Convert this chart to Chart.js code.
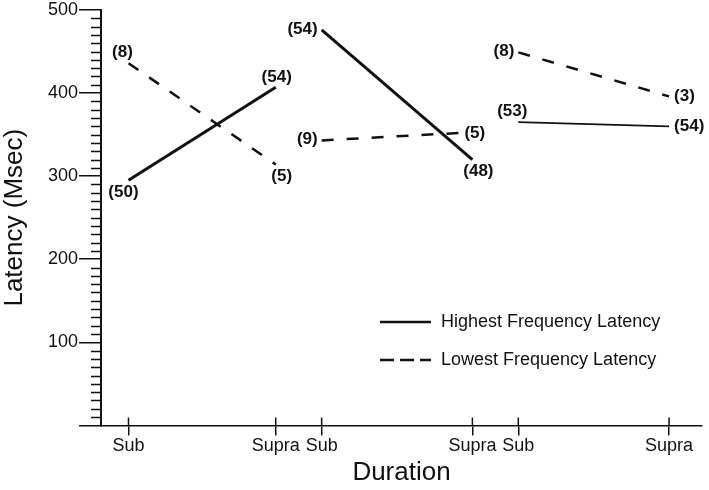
<!DOCTYPE html>
<html lang="en">
<head>
    <meta charset="UTF-8">
    <title>Latency by Duration</title>
    <script src="https://cdn.jsdelivr.net/npm/chart.js"></script>
    <style>
        body { margin: 0; background: #ffffff; }
        canvas { display: block; }
    </style>
</head>
<body>
    <canvas id="latencyChart" width="709" height="490"></canvas>

    <script>
        // tick positions on the duration axis (three Sub/Supra pairs) and their labels
        const tickPos = [0.55, 3.5, 4.42, 7.44, 8.36, 11.38];
        const tickLabels = ['Sub', 'Supra', 'Sub', 'Supra', 'Sub', 'Supra'];

        const seriesNames = ['Highest Frequency Latency', 'Lowest Frequency Latency'];

        // highest frequency latency (msec), n in brackets
        const highestX = [0.55, 3.5, 4.42, 7.44, 8.36, 11.38];
        const highest = [295, 407, 476, 320, 365, 360];
        const highestN = ['(50)', '(54)', '(54)', '(48)', '(53)', '(54)'];

        // lowest frequency latency (msec)
        const lowestX = [0.55, 3.5, 4.42, 7.18, 8.36, 11.38];
        const lowest = [436, 314, 343, 352, 449, 396];
        const lowestN = ['(8)', '(5)', '(9)', '(5)', '(8)', '(3)'];

        // where each bracket label sits next to its point
        const highestPlace = ['belowLeft', 'above', 'left', 'belowRight', 'aboveLeft', 'right'];
        const lowestPlace = ['aboveLeft', 'belowRight', 'left', 'right', 'left', 'right'];

        const FONT = '"Liberation Sans", Arial, Helvetica, sans-serif';
        const INK = '#111';
        Chart.defaults.font.family = FONT;
        Chart.defaults.color = INK;

        const placeOffsets = {
            left:       { align: 'right',  dx: -4, dy: -1 },
            right:      { align: 'left',   dx: 5,  dy: 0 },
            above:      { align: 'center', dx: 1,  dy: -10 },
            aboveLeft:  { align: 'center', dx: -6, dy: -11 },
            belowLeft:  { align: 'center', dx: -5, dy: 12 },
            belowRight: { align: 'center', dx: 6,  dy: 12 }
        };

        // one dataset per pair so the three groups stay unconnected
        const datasets = [];
        for (let g = 0; g < 3; g++) {
            const a = g * 2, b = g * 2 + 1;
            datasets.push({
                label: seriesNames[0],
                data: [{ x: highestX[a], y: highest[a] }, { x: highestX[b], y: highest[b] }],
                nLabels: [highestN[a], highestN[b]],
                places: [highestPlace[a], highestPlace[b]],
                borderColor: INK,
                borderWidth: g === 2 ? 1.8 : 3
            });
            datasets.push({
                label: seriesNames[1],
                data: [{ x: lowestX[a], y: lowest[a] }, { x: lowestX[b], y: lowest[b] }],
                nLabels: [lowestN[a], lowestN[b]],
                places: [lowestPlace[a], lowestPlace[b]],
                borderColor: INK,
                borderWidth: 2.5,
                borderDash: [12, 13]
            });
        }

        // minor y ticks every 10 msec and the upper half of the x ticks
        const axisExtras = {
            id: 'axisExtras',
            afterDraw(chart) {
                const ctx = chart.ctx;
                const y = chart.scales.y;
                const x = chart.scales.x;
                ctx.save();
                ctx.strokeStyle = INK;
                ctx.lineWidth = 1.5;
                ctx.beginPath();
                for (let v = y.min + 10; v < y.max; v += 10) {
                    if (v % 100 === 0) continue;
                    const py = Math.round(y.getPixelForValue(v)) + 0.5;
                    ctx.moveTo(y.right - 10, py);
                    ctx.lineTo(y.right, py);
                }
                x.ticks.forEach(t => {
                    const px = x.getPixelForValue(t.value);
                    ctx.moveTo(px, x.top);
                    ctx.lineTo(px, x.top - 8);
                });
                ctx.stroke();
                ctx.restore();
            }
        };

        // the (n) labels beside each point
        const pointLabels = {
            id: 'pointLabels',
            afterDatasetsDraw(chart) {
                const ctx = chart.ctx;
                ctx.save();
                ctx.font = 'bold 17px ' + FONT;
                ctx.fillStyle = INK;
                ctx.textBaseline = 'middle';
                chart.data.datasets.forEach((ds, i) => {
                    chart.getDatasetMeta(i).data.forEach((pt, j) => {
                        const o = placeOffsets[ds.places[j]];
                        ctx.textAlign = o.align;
                        ctx.fillText(ds.nLabels[j], pt.x + o.dx, pt.y + o.dy);
                    });
                });
                ctx.restore();
            }
        };

        // legend sits inside the plot, lower right
        const insideLegend = {
            id: 'insideLegend',
            afterDraw(chart) {
                const ctx = chart.ctx;
                const left = chart.chartArea.left + 279;
                const top = chart.chartArea.top + 312;
                const dashes = [[], [14, 6]];
                ctx.save();
                ctx.strokeStyle = INK;
                ctx.fillStyle = INK;
                ctx.font = '18px ' + FONT;
                ctx.textBaseline = 'middle';
                ctx.textAlign = 'left';
                seriesNames.forEach((name, i) => {
                    const yy = top + i * 38;
                    ctx.lineWidth = 2.5;
                    ctx.setLineDash(dashes[i]);
                    ctx.beginPath();
                    ctx.moveTo(left, yy);
                    ctx.lineTo(left + 51, yy);
                    ctx.stroke();
                    ctx.fillText(name, left + 61, yy);
                });
                ctx.restore();
            }
        };

        const ctx = document.getElementById('latencyChart').getContext('2d');
        const latencyChart = new Chart(ctx, {
            type: 'line',
            data: { datasets },
            options: {
                responsive: false,
                animation: false,
                devicePixelRatio: 1,
                layout: { padding: { top: 10, right: 7, left: 0, bottom: 0 } },
                elements: {
                    point: { radius: 0, hoverRadius: 0 },
                    line: { tension: 0, fill: false }
                },
                plugins: {
                    legend: { display: false },
                    tooltip: { enabled: false }
                },
                scales: {
                    x: {
                        type: 'linear',
                        min: 0,
                        max: 12.04,
                        afterBuildTicks: axis => {
                            axis.ticks = tickPos.map(v => ({ value: v }));
                        },
                        ticks: {
                            autoSkip: false,
                            maxRotation: 0,
                            padding: 0,
                            font: { size: 18 },
                            callback: (value, index) => tickLabels[index]
                        },
                        grid: { drawOnChartArea: false, tickLength: 10, color: INK, lineWidth: 1.5 },
                        border: { color: INK, width: 1.5 },
                        title: {
                            display: true,
                            text: 'Duration',
                            font: { size: 26, lineHeight: 1 },
                            padding: { top: 3, bottom: 4 }
                        }
                    },
                    y: {
                        min: 0,
                        max: 500,
                        ticks: {
                            stepSize: 100,
                            padding: 1,
                            font: { size: 18, lineHeight: 1 },
                            callback: v => (v === 0 ? '' : v)
                        },
                        grid: { drawOnChartArea: false, tickLength: 22, color: INK, lineWidth: 1.5 },
                        border: { color: INK, width: 2 },
                        title: {
                            display: true,
                            text: 'Latency (Msec)',
                            font: { size: 26, lineHeight: 1 },
                            padding: { top: 2, bottom: 19 }
                        }
                    }
                }
            },
            plugins: [axisExtras, pointLabels, insideLegend]
        });
    </script>
</body>
</html>
